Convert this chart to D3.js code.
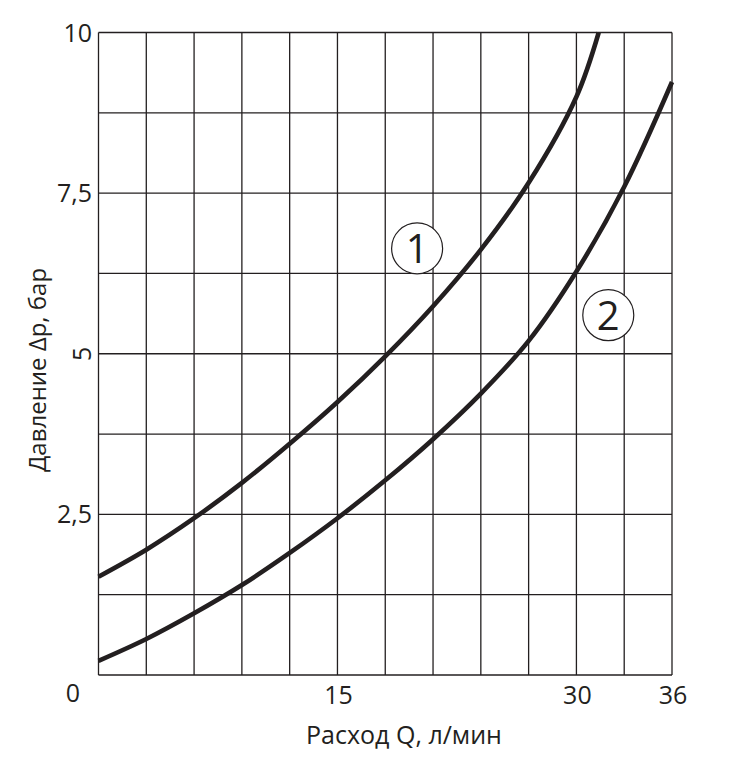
<!DOCTYPE html>
<html>
<head>
<meta charset="utf-8">
<style>
  body { margin: 0; background: #fff; }
  svg text { font-family: "Open Sans", "Noto Sans", sans-serif; fill: #231f20; }
</style>
</head>
<body>
<div id="chart"></div>
<script src="https://d3js.org/d3.v7.min.js"></script>
<script>
  // Flow rate Q, l/min
  const flow1 = [0, 3, 6, 9, 12, 15, 18, 21, 24, 27, 30, 31.4];
  const flow2 = [0, 3, 6, 9, 12, 15, 18, 21, 24, 27, 30, 33, 36];
  // Pressure drop, bar
  const pressure1 = [1.53, 1.95, 2.44, 2.99, 3.6, 4.25, 4.96, 5.74, 6.62, 7.66, 9.0, 10];
  const pressure2 = [0.22, 0.56, 0.96, 1.4, 1.9, 2.44, 3.03, 3.67, 4.38, 5.2, 6.28, 7.6, 9.23];

  const xTicks = [15, 30, 36];
  const yTicks = [2.5, 5, 7.5, 10];
  const yTickLabels = ['2,5', '5', '7,5', '10'];
  const xGrid = d3.range(0, 37, 3);
  const yGrid = d3.range(0, 10.01, 1.25);

  const curveLabels = [
    { text: '1', q: 20, p: 6.64 },
    { text: '2', q: 32, p: 5.6 }
  ];

  const width = 734, height = 757;
  const margin = { left: 98.5, top: 32.5, right: 62, bottom: 82 };

  const svg = d3.select('#chart')
    .append('svg')
    .attr('width', width)
    .attr('height', height);

  const x = d3.scaleLinear()
    .domain([0, 36])
    .range([margin.left, width - margin.right]);

  const y = d3.scaleLinear()
    .domain([0, 10])
    .range([height - margin.bottom, margin.top]);

  // grid
  svg.append('g')
    .selectAll('line')
    .data(xGrid)
    .enter()
    .append('line')
    .attr('x1', (d) => x(d)).attr('x2', (d) => x(d))
    .attr('y1', y(0)).attr('y2', y(10))
    .attr('stroke', '#231f20')
    .attr('stroke-width', 1.3);

  svg.append('g')
    .selectAll('line')
    .data(yGrid)
    .enter()
    .append('line')
    .attr('y1', (d) => y(d)).attr('y2', (d) => y(d))
    .attr('x1', x(0)).attr('x2', x(36))
    .attr('stroke', '#231f20')
    .attr('stroke-width', 1.3);

  // curves
  const line = d3.line()
    .x((d) => x(d[0]))
    .y((d) => y(d[1]))
    .curve(d3.curveCatmullRom.alpha(0.5));

  const series = [d3.zip(flow1, pressure1), d3.zip(flow2, pressure2)];

  svg.append('g')
    .selectAll('path')
    .data(series)
    .enter()
    .append('path')
    .attr('d', line)
    .attr('fill', 'none')
    .attr('stroke', '#231f20')
    .attr('stroke-width', 4.6);

  // circled curve numbers
  const lab = svg.append('g')
    .selectAll('g')
    .data(curveLabels)
    .enter()
    .append('g')
    .attr('transform', (d) => `translate(${x(d.q)},${y(d.p)})`);

  lab.append('circle')
    .attr('r', 25.5)
    .attr('fill', '#fff')
    .attr('stroke', '#231f20')
    .attr('stroke-width', 1.2);

  lab.append('text')
    .attr('text-anchor', 'middle')
    .attr('dy', '0.36em')
    .attr('font-size', 40)
    .text((d) => d.text);

  // tick labels
  svg.append('g')
    .selectAll('text')
    .data(xTicks)
    .enter()
    .append('text')
    .attr('x', (d) => x(d) + 1)
    .attr('y', 704)
    .attr('text-anchor', 'middle')
    .attr('font-size', 25)
    .text((d) => d);

  svg.append('text')
    .attr('x', 73)
    .attr('y', 702)
    .attr('text-anchor', 'middle')
    .attr('font-size', 25)
    .text('0');

  svg.append('g')
    .selectAll('text')
    .data(yTicks)
    .enter()
    .append('text')
    .attr('transform', (d) => d === 5
      ? `translate(82,${y(d)}) rotate(-90)`
      : `translate(92,${y(d)})`)
    .attr('text-anchor', (d) => d === 5 ? 'middle' : 'end')
    .attr('dy', '0.36em')
    .attr('font-size', 25)
    .text((d, i) => yTickLabels[i]);

  // axis titles
  svg.append('text')
    .attr('x', 404)
    .attr('y', 744)
    .attr('text-anchor', 'middle')
    .attr('font-size', 25)
    .text('Расход Q, л/мин');

  svg.append('text')
    .attr('transform', 'translate(37,370) rotate(-90)')
    .attr('text-anchor', 'middle')
    .attr('dy', '0.36em')
    .attr('font-size', 24)
    .text('Давление Δр, бар');
</script>
</body>
</html>
